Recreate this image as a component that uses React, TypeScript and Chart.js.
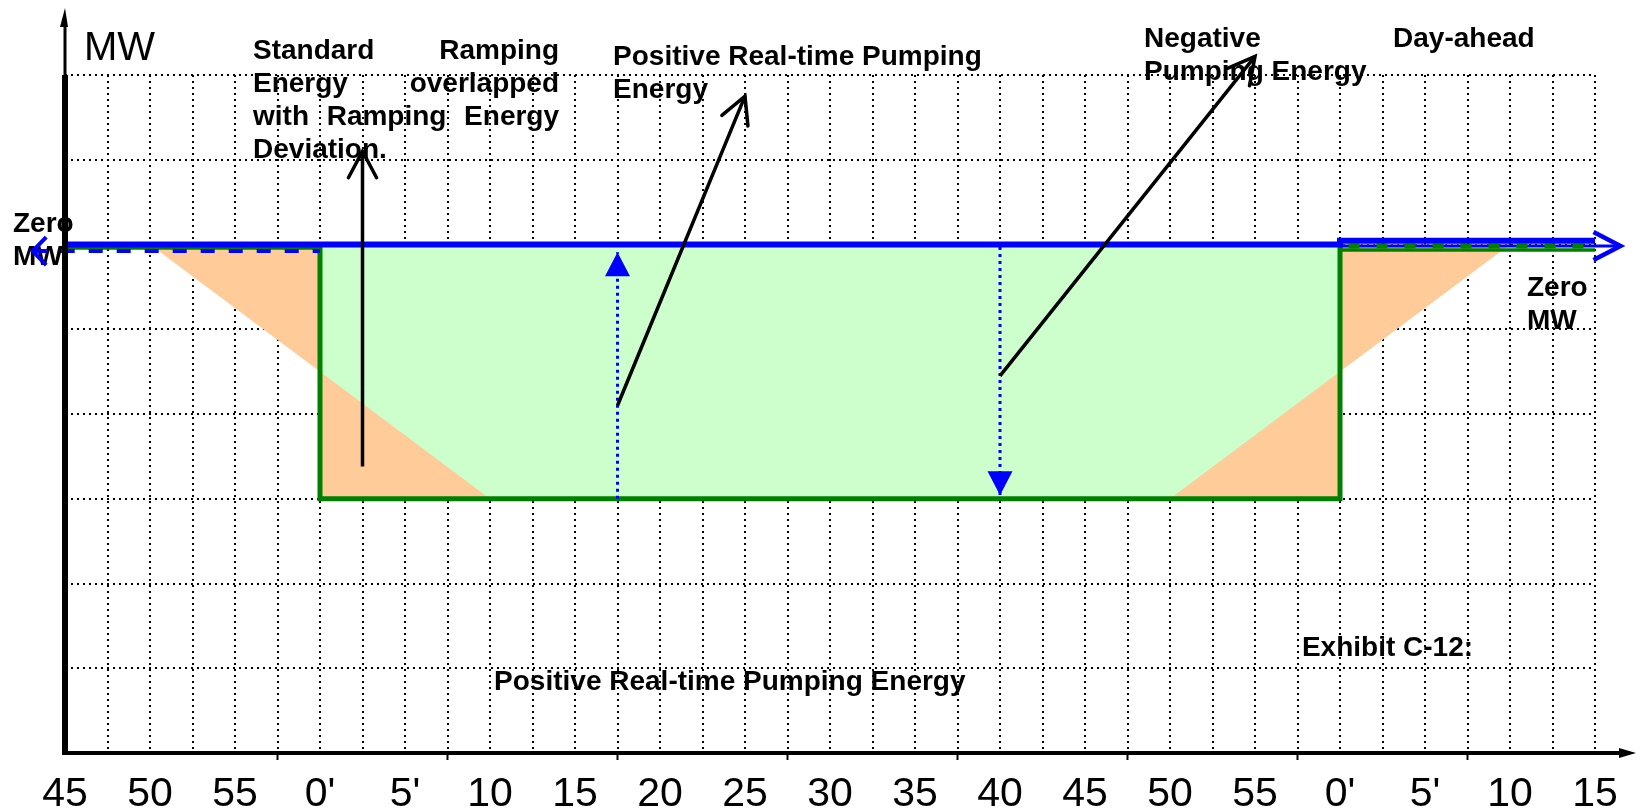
import React, { useEffect, useRef } from 'react';
import { Chart, registerables } from 'chart.js';

Chart.register(...registerables);

// ---------- data (x = minutes elapsed from ":45", y = MW grid units) ----------
const tickLabels = ['45', '50', '55', "0'", "5'", '10', '15', '20', '25', '30', '35', '40', '45', '50', '55', "0'", "5'", '10', '15'];
const xRange = [0, 90];
const yRange = [-6, 2];
const gridStepX = 2.5;
const labelStepX = 5;
const axisMarkX = [12.5, 22.5, 32.5, 42.5, 52.5, 62.5, 72.5, 82.5];

// real-time (step) schedule: green rectangle
const realTimeX = [15, 15, 75, 75];
const realTimeY = [0, -3, -3, 0];
// ramping differences (orange)
const rampLeftX = [5, 15, 15, 25];
const rampLeftY = [0, 0, -3, -3];
const rampRightX = [65, 75, 75, 85];
const rampRightY = [-3, -3, 0, 0];
// zero MW lines
const zeroLineX = [0, 75, 75, 90];
const zeroLineY = [0, 0, 0.045, 0.045];
const dayAheadLeftX = [0, 15];
const dayAheadLeftY = [-0.045, -0.045];
const dayAheadRightX = [75, 90];
const dayAheadRightY = [-0.065, -0.065];
const dashLeftX = [-1.9, 15];
const dashLeftY = [-0.078, -0.078];
const thinRightX = [75, 91.5];
const thinRightY = [-0.018, -0.018];
const greenDashRightX = [75.5, 90];
const greenDashRightY = [-0.018, -0.018];
// arrows
const rampArrowX = [17.5, 17.5];
const rampArrowY = [-2.62, 1.1];
const posArrowX = [32.5, 40];
const posArrowY = [-1.9, 1.75];
const negArrowX = [55, 70];
const negArrowY = [-1.55, 2.22];
const upArrowX = [32.5, 32.5];
const upArrowY = [-3, -0.09];
const downArrowX = [55, 55];
const downArrowY = [-0.03, -2.96];

// ---------- annotations (anchors in data units) ----------
const FONT = "'Liberation Sans', Arial, sans-serif";
const notes = [
  { lines: ['MW'], x: 1.12, y: 2.18, bold: false, size: 40 },
  { lines: ['Positive Real-time Pumping', 'Energy'], x: 32.24, y: 2.118, bold: true, size: 28 },
  { lines: ['Negative', 'Pumping Energy'], x: 63.47, y: 2.33, bold: true, size: 28 },
  { lines: ['Day-ahead'], x: 78.12, y: 2.33, bold: true, size: 28 },
  { lines: ['Zero', 'MW'], x: -3.06, y: 0.153, bold: true, size: 28 },
  { lines: ['Zero', 'MW'], x: 86.0, y: -0.612, bold: true, size: 28 },
  { lines: ['Exhibit C-12:'], x: 72.76, y: -4.86, bold: true, size: 28 },
  { lines: ['Positive Real-time Pumping Energy'], x: 25.24, y: -5.26, bold: true, size: 28 },
];
const justifiedNote = {
  lines: [['Standard', 'Ramping'], ['Energy', 'overlapped'], ['with', 'Ramping', 'Energy'], ['Deviation.']],
  x0: 11.06,
  x1: 29.06,
  y: 2.19,
};
const LINE_H = 33;

const pts = (xs: number[], ys: number[]) => xs.map((x, i) => ({ x, y: ys[i] }));

const BLUE = '#0000FF';
const GREEN = '#008000';

const blackArrows = [
  { xs: rampArrowX, ys: rampArrowY },
  { xs: posArrowX, ys: posArrowY },
  { xs: negArrowX, ys: negArrowY },
];
const blueArrows = [
  { xs: upArrowX, ys: upArrowY },
  { xs: downArrowX, ys: downArrowY },
];

const diagramPlugin = {
  id: 'diagram',
  beforeDatasetsDraw(chart: any) {
    const { ctx, scales } = chart;
    const sx = scales.x, sy = scales.y;
    ctx.save();
    ctx.fillStyle = '#000';
    ctx.textBaseline = 'alphabetic';
    ctx.textAlign = 'left';
    for (const n of notes) {
      ctx.font = `${n.bold ? 'bold ' : ''}${n.size}px ${FONT}`;
      const px = sx.getPixelForValue(n.x);
      const py = sy.getPixelForValue(n.y);
      n.lines.forEach((t, i) => ctx.fillText(t, px, py + i * LINE_H));
    }
    ctx.font = `bold 28px ${FONT}`;
    const left = sx.getPixelForValue(justifiedNote.x0);
    const right = sx.getPixelForValue(justifiedNote.x1);
    const base = sy.getPixelForValue(justifiedNote.y);
    justifiedNote.lines.forEach((words, i) => {
      const y = base + i * LINE_H;
      const last = i === justifiedNote.lines.length - 1;
      if (last || words.length === 1) {
        ctx.fillText(words.join(' '), left, y);
        return;
      }
      const total = words.reduce((s, w) => s + ctx.measureText(w).width, 0);
      const gap = (right - left - total) / (words.length - 1);
      let x = left;
      words.forEach((w) => {
        ctx.fillText(w, x, y);
        x += ctx.measureText(w).width + gap;
      });
    });
    ctx.restore();
  },
  afterDatasetsDraw(chart: any) {
    const { ctx, scales, chartArea } = chart;
    const sx = scales.x, sy = scales.y;
    const { right, top } = chartArea;
    ctx.save();
    ctx.setLineDash([]);

    // black arrow heads (open V)
    ctx.strokeStyle = '#000';
    ctx.lineWidth = 3.5;
    ctx.lineCap = 'round';
    for (const a of blackArrows) {
      const n = a.xs.length;
      const x1 = sx.getPixelForValue(a.xs[n - 1]), y1 = sy.getPixelForValue(a.ys[n - 1]);
      const x0 = sx.getPixelForValue(a.xs[n - 2]), y0 = sy.getPixelForValue(a.ys[n - 2]);
      const ang = Math.atan2(y0 - y1, x0 - x1);
      const L = 30, h = (28 * Math.PI) / 180;
      ctx.beginPath();
      ctx.moveTo(x1 + L * Math.cos(ang + h), y1 + L * Math.sin(ang + h));
      ctx.lineTo(x1, y1);
      ctx.lineTo(x1 + L * Math.cos(ang - h), y1 + L * Math.sin(ang - h));
      ctx.stroke();
    }

    // blue filled arrow heads
    ctx.fillStyle = BLUE;
    for (const a of blueArrows) {
      const n = a.xs.length;
      const x1 = sx.getPixelForValue(a.xs[n - 1]), y1 = sy.getPixelForValue(a.ys[n - 1]);
      const x0 = sx.getPixelForValue(a.xs[n - 2]), y0 = sy.getPixelForValue(a.ys[n - 2]);
      const ang = Math.atan2(y0 - y1, x0 - x1);
      const L = 24, w = 12.5;
      const bx = x1 + L * Math.cos(ang), by = y1 + L * Math.sin(ang);
      ctx.beginPath();
      ctx.moveTo(x1, y1);
      ctx.lineTo(bx + w * Math.cos(ang + Math.PI / 2), by + w * Math.sin(ang + Math.PI / 2));
      ctx.lineTo(bx - w * Math.cos(ang + Math.PI / 2), by - w * Math.sin(ang + Math.PI / 2));
      ctx.closePath();
      ctx.fill();
    }

    // blue chevrons on zero lines
    ctx.strokeStyle = BLUE;
    ctx.lineWidth = 4;
    ctx.lineCap = 'butt';
    {
      const tx = sx.getPixelForValue(dashLeftX[0]), ty = sy.getPixelForValue(dashLeftY[0]);
      ctx.beginPath();
      ctx.moveTo(tx + 13.5, ty - 14);
      ctx.lineTo(tx, ty);
      ctx.lineTo(tx + 13.5, ty + 14);
      ctx.stroke();
    }
    {
      const n = thinRightX.length;
      const tx = sx.getPixelForValue(thinRightX[n - 1]), ty = sy.getPixelForValue(thinRightY[n - 1]);
      ctx.lineWidth = 4.5;
      ctx.beginPath();
      ctx.moveTo(tx - 27, ty - 14);
      ctx.lineTo(tx, ty);
      ctx.lineTo(tx - 27, ty + 14);
      ctx.stroke();
    }

    // axes
    ctx.strokeStyle = '#000';
    ctx.fillStyle = '#000';
    ctx.lineCap = 'butt';
    const xAxisY = sy.getPixelForValue(yRange[0]);
    const yAxisX = sx.getPixelForValue(xRange[0]);
    ctx.lineWidth = 4;
    ctx.beginPath();
    ctx.moveTo(yAxisX - 3, xAxisY);
    ctx.lineTo(right + 28, xAxisY);
    ctx.stroke();
    ctx.beginPath();
    ctx.moveTo(right + 41, xAxisY);
    ctx.lineTo(right + 24, xAxisY - 5);
    ctx.lineTo(right + 24, xAxisY + 5);
    ctx.closePath();
    ctx.fill();
    // tick marks
    ctx.lineWidth = 2;
    for (const v of axisMarkX) {
      const px = sx.getPixelForValue(v);
      ctx.beginPath();
      ctx.moveTo(px, xAxisY);
      ctx.lineTo(px, xAxisY + 7);
      ctx.stroke();
    }
    // y axis
    ctx.lineWidth = 6;
    ctx.beginPath();
    ctx.moveTo(yAxisX, xAxisY + 2);
    ctx.lineTo(yAxisX, top);
    ctx.stroke();
    ctx.lineWidth = 3;
    ctx.beginPath();
    ctx.moveTo(yAxisX, top);
    ctx.lineTo(yAxisX, top - 52);
    ctx.stroke();
    ctx.beginPath();
    ctx.moveTo(yAxisX, top - 67);
    ctx.lineTo(yAxisX - 5, top - 48);
    ctx.lineTo(yAxisX + 3, top - 48);
    ctx.closePath();
    ctx.fill();

    ctx.restore();
  },
};

const line = (data: any, extra: any) => ({
  type: 'line',
  data,
  pointRadius: 0,
  pointHoverRadius: 0,
  tension: 0,
  fill: false,
  clip: false,
  borderWidth: 3,
  ...extra,
});

export default function App() {
  const ref = useRef<HTMLCanvasElement>(null);
  useEffect(() => {
    document.body.style.margin = '0';
    const bottomUp = [
      line(pts(realTimeX, realTimeY), { fill: 'origin', backgroundColor: '#CCFFCC', borderWidth: 0, borderColor: 'rgba(0,0,0,0)', clip: 0 }),
      line(pts(rampLeftX, rampLeftY), { fill: 'shape', backgroundColor: '#FFCC99', borderWidth: 0, borderColor: 'rgba(0,0,0,0)', clip: 0 }),
      line(pts(rampRightX, rampRightY), { fill: 'shape', backgroundColor: '#FFCC99', borderWidth: 0, borderColor: 'rgba(0,0,0,0)', clip: 0 }),
      line(pts(realTimeX, realTimeY), { borderColor: GREEN, borderWidth: 5, borderJoinStyle: 'miter' }),
      line(pts(dayAheadLeftX, dayAheadLeftY), { borderColor: GREEN, borderWidth: 3 }),
      line(pts(dayAheadRightX, dayAheadRightY), { borderColor: GREEN, borderWidth: 3.5 }),
      line(pts(dashLeftX, dashLeftY), { borderColor: BLUE, borderWidth: 4, borderDash: [14, 14] }),
      line(pts(thinRightX, thinRightY), { borderColor: BLUE, borderWidth: 3 }),
      line(pts(greenDashRightX, greenDashRightY), { borderColor: GREEN, borderWidth: 5, borderDash: [11, 17] }),
      line(pts(zeroLineX, zeroLineY), { borderColor: BLUE, borderWidth: 6, borderJoinStyle: 'miter' }),
      line(pts(upArrowX, upArrowY), { borderColor: BLUE, borderWidth: 3, borderDash: [3, 4] }),
      line(pts(downArrowX, downArrowY), { borderColor: BLUE, borderWidth: 3, borderDash: [3, 4] }),
      line(pts(rampArrowX, rampArrowY), { borderColor: '#000', borderWidth: 3.5 }),
      line(pts(posArrowX, posArrowY), { borderColor: '#000', borderWidth: 3.5 }),
      line(pts(negArrowX, negArrowY), { borderColor: '#000', borderWidth: 3.5 }),
    ];
    const n = bottomUp.length;
    const datasets = bottomUp.map((d, i) => ({ ...d, order: n - i }));

    const chart = new Chart(ref.current as HTMLCanvasElement, {
      type: 'line',
      data: { datasets } as any,
      options: {
        animation: false,
        responsive: false,
        maintainAspectRatio: false,
        events: [],
        layout: { padding: { left: 65, right: 45, top: 75, bottom: -26 } },
        plugins: { legend: { display: false }, tooltip: { enabled: false } },
        scales: {
          x: {
            type: 'linear',
            min: xRange[0],
            max: xRange[1],
            ticks: {
              stepSize: gridStepX,
              autoSkip: false,
              maxRotation: 0,
              minRotation: 0,
              padding: 21,
              color: '#000',
              font: { family: FONT, size: 41, lineHeight: 1 },
              callback: (v: any) => {
                const k = Number(v) / labelStepX;
                return Number.isInteger(k) ? tickLabels[k] ?? '' : '';
              },
            },
            grid: { color: '#000', lineWidth: 2, drawTicks: false },
            border: { display: false, dash: [2, 4] },
          },
          y: {
            type: 'linear',
            min: yRange[0],
            max: yRange[1],
            ticks: { display: false, stepSize: 1 },
            grid: { color: '#000', lineWidth: 2, drawTicks: false },
            border: { display: false, dash: [2, 4] },
          },
        },
      } as any,
      plugins: [diagramPlugin],
    });
    return () => chart.destroy();
  }, []);

  return (
    <div style={{ width: 1640, height: 810, background: '#fff' }}>
      <canvas ref={ref} width={1640} height={810} style={{ display: 'block' }} />
    </div>
  );
}
